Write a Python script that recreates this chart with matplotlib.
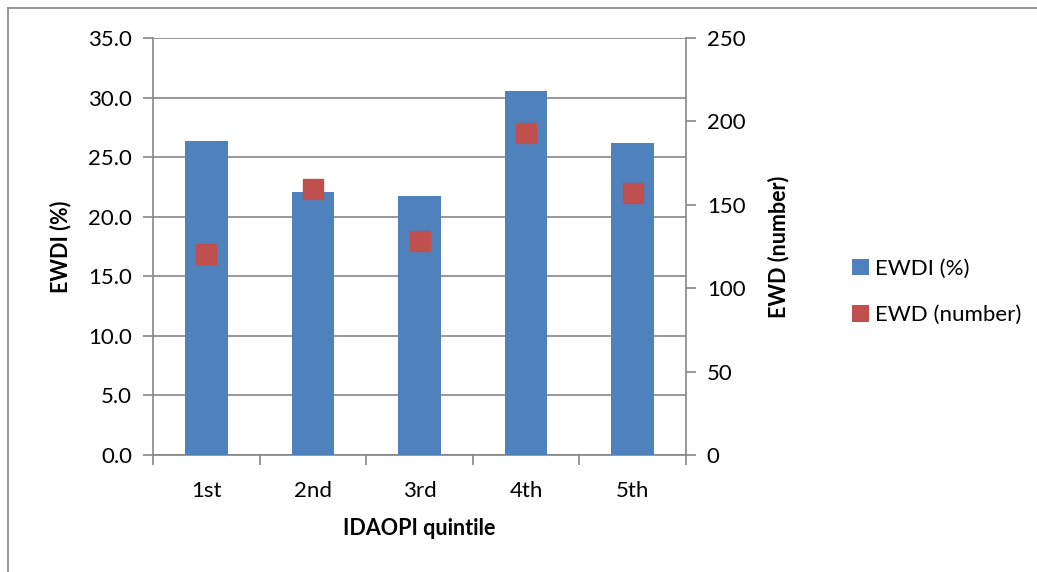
import numpy as np
import matplotlib
matplotlib.use('Agg')
import matplotlib.pyplot as plt
from matplotlib.lines import Line2D
from matplotlib.patches import Patch

# ── Data ──────────────────────────────────────────────────────────────────────
quintiles = ['1st', '2nd', '3rd', '4th', '5th']
ewdi_pct = [26.33, 22.06, 21.78, 30.56, 26.2]
ewd_number = [120.7, 159.4, 128.2, 193.0, 156.8]

BAR_COLOR = '#4F81BD'
MARK_COLOR = '#C0504D'
GRID_COLOR = '#868686'

plt.rcParams['font.family'] = ['Lato', 'DejaVu Sans']

W, H = 1037, 572
fig = plt.figure(figsize=(W / 100, H / 100), dpi=100)
fig.patch.set_facecolor('white')

# plot area in pixel coords
left, right, top, bottom = 153, 686, 38, 455
ax = fig.add_axes([left / W, 1 - bottom / H, (right - left) / W, (bottom - top) / H])
ax2 = ax.twinx()

x = np.arange(len(quintiles))
ax.bar(x, ewdi_pct, width=0.4, color=BAR_COLOR, zorder=3)
ax2.plot(x, ewd_number, linestyle='none', marker='s', markersize=15,
         color=MARK_COLOR, markeredgecolor=MARK_COLOR, zorder=4)

ax.set_xlim(-0.5, len(quintiles) - 0.5)
ax.set_ylim(0, 35)
ax2.set_ylim(0, 250)
ax.set_yticks(np.arange(0, 35.1, 5))
ax.set_yticklabels([f'{v:.1f}' for v in np.arange(0, 35.1, 5)])
ax2.set_yticks(np.arange(0, 251, 50))

# category ticks at boundaries, labels at centers
ax.set_xticks(np.arange(-0.5, len(quintiles), 1.0))
ax.set_xticklabels([])
ax.set_xticks(x, minor=True)
ax.set_xticklabels(quintiles, minor=True)
ax.tick_params(axis='x', which='minor', length=0, pad=19, labelsize=16)
ax.tick_params(axis='x', which='major', length=7, color=GRID_COLOR, width=1.2)

ax.tick_params(axis='y', length=7, color=GRID_COLOR, width=1.2, labelsize=16, pad=8)
ax2.tick_params(axis='y', length=7, color=GRID_COLOR, width=1.2, labelsize=16, pad=8)

ax.grid(axis='y', color=GRID_COLOR, linewidth=1.2, zorder=0)
ax.set_axisbelow(True)

for a in (ax, ax2):
    a.spines['top'].set_visible(False)
    for s in ('left', 'right', 'bottom'):
        a.spines[s].set_color(GRID_COLOR)
        a.spines[s].set_linewidth(1.2)
ax.spines['right'].set_visible(False)
ax2.spines['left'].set_visible(False)
ax2.spines['bottom'].set_visible(False)

ax.set_ylabel('EWDI (%)', fontsize=15.5, fontweight='bold', labelpad=12)
ax2.set_ylabel('EWD (number)', fontsize=15.5, fontweight='bold', labelpad=16)
ax.set_xlabel('IDAOPI quintile', fontsize=15.5, fontweight='bold', labelpad=12)

handles = [Patch(facecolor=BAR_COLOR, label='EWDI (%)'),
           Patch(facecolor=MARK_COLOR, label='EWD (number)')]
fig.legend(handles=handles, loc='center left', bbox_to_anchor=(832 / W, 1 - 292 / H),
           frameon=False, fontsize=16, handlelength=0.75, handleheight=0.75,
           handletextpad=0.3, labelspacing=1.2)

# outer chart border (partially cropped)
fig.add_artist(Line2D([8 / W, 1.0], [1 - 8 / H, 1 - 8 / H], color=GRID_COLOR, linewidth=1.2))
fig.add_artist(Line2D([8 / W, 8 / W], [1 - 8 / H, 0.0], color=GRID_COLOR, linewidth=1.2))

fig.savefig('out.png', dpi=100, facecolor='white')
